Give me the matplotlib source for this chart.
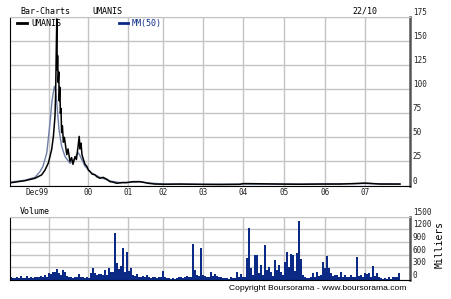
import matplotlib
matplotlib.use('Agg')
import matplotlib.pyplot as plt
from matplotlib.lines import Line2D
import numpy as np

# time axis is in periods (one period ~ 2 weeks), 200 periods on the axis
price_t = [0.5, 7.5, 12.5, 15.8, 17.5, 19.2, 20.8, 21.7, 22.5, 22.8, 23.2, 23.4, 23.6, 23.8,
           24.1, 24.4, 24.6, 24.9, 25.2, 25.5, 25.8, 26.2, 26.7, 27.2, 28.4, 29, 30, 30.8,
           31.5, 32.5, 33.2, 34, 34.6, 35, 35.5, 36, 36.7, 37.5, 38.4, 39.2, 40, 41, 42.5,
           43.5, 45, 46.5, 48.4, 50, 51.5, 53.4, 56, 58.4, 61.5, 65, 67.5, 69.2, 72.5, 77.5,
           85, 95, 105, 115, 116.5, 125, 135, 145, 155, 165, 172.5, 177.5, 185, 195]
price_v = [2.9, 5, 7.5, 11, 16, 23.5, 37, 51, 72, 93, 149, 173, 120, 135,
           107, 118, 88, 102, 75, 80, 55, 62, 45, 50, 32, 38, 25, 29,
           22, 30, 27, 40, 51, 38, 44, 32, 27, 22, 20, 16, 14.5, 12, 11,
           9, 7.5, 8.5, 6.5, 4, 3.5, 2.3, 3, 3, 4, 4, 3, 2.3, 1.5, 1.3,
           1.5, 1.2, 1, 1.2, 2, 1.8, 1.5, 1.3, 1.5, 1.5, 2, 2.5, 1.5, 1.5]

ma_t = [0.5, 7.5, 12.5, 15, 16.5, 18.4, 20, 21, 21.7, 22.2, 22.8, 23.4, 24.5, 25.8, 27.5,
        30, 31.7, 33.4, 34.2, 35, 37.5, 40.8, 45, 50, 55, 60, 65, 70, 77.5, 95, 116.5,
        145, 177.5, 195]
ma_v = [3.5, 5.5, 8.5, 14.5, 20, 34, 65, 88, 97, 103, 98, 86, 58, 41, 30,
        23, 26, 32, 34, 31, 20, 13, 8.5, 4.7, 3, 3.3, 3.8, 2.5, 1.5, 1.3, 1.5,
        1.4, 2.1, 1.5]

# volume (milliers), one value per period
volume = [60, 50, 40, 70, 45, 90, 40, 50, 100, 45, 60, 50, 80, 60, 70, 90, 60, 110, 80, 170,
          140, 200, 180, 260, 160, 120, 240, 200, 100, 70, 60, 50, 70, 60, 135, 70, 60, 50, 60, 50,
          170, 290, 160, 130, 150, 140, 120, 240, 130, 290, 180, 200, 1105, 395, 250, 330, 765, 200, 655, 220,
          290, 110, 90, 135, 80, 70, 100, 60, 120, 70, 50, 80, 60, 50, 60, 70, 215, 80, 40, 50,
          30, 40, 30, 50, 80, 60, 40, 60, 90, 70, 80, 855, 240, 120, 90, 750, 120, 100, 80, 60,
          180, 100, 150, 90, 60, 80, 40, 40, 50, 30, 60, 50, 40, 200, 80, 135, 70, 60, 530, 1230,
          290, 120, 590, 600, 160, 355, 120, 830, 240, 300, 190, 100, 475, 240, 355, 200, 120, 435, 670, 310,
          610, 590, 210, 630, 1400, 500, 120, 60, 50, 40, 60, 160, 80, 180, 90, 120, 435, 280, 575, 290,
          160, 90, 120, 110, 80, 200, 80, 120, 60, 70, 120, 80, 60, 545, 100, 120, 80, 160, 150, 160,
          80, 330, 90, 170, 60, 40, 30, 50, 30, 70, 30, 70, 60, 70, 160]

grid_t = [19.5, 39, 59, 76.5, 96.5, 116.5, 137, 157.5, 177.5]
grid_labels = ['Dec99', '00', '01', '02', '03', '04', '05', '06', '07']
price_ticks = [0, 25, 50, 75, 100, 125, 150, 175]
vol_ticks = [0, 300, 600, 900, 1200, 1500]

MONO = 'DejaVu Sans Mono'
GRID = '#c4c4c4'
NAVY = '#0b2a85'

W, H = 451, 299
fig = plt.figure(figsize=(W / 100, H / 100), dpi=100)

def box(l, t, r, b):
    return [l / W, 1 - b / H, (r - l) / W, (b - t) / H]

ax = fig.add_axes(box(10, 17, 410, 185.5))
av = fig.add_axes(box(10, 216.7, 410, 280))

for a in (ax, av):
    a.set_xlim(0, 200)
    a.set_xticks(grid_t)
    a.grid(True, color=GRID, lw=1)
    a.set_axisbelow(True)
    a.yaxis.tick_right()
    a.tick_params(length=0, labelsize=5.5, pad=2, colors='#222222')
    a.spines['left'].set_color('black')
    a.spines['bottom'].set_color('black')
    a.spines['top'].set_color(GRID)
    a.spines['right'].set_color('#555555')
    a.spines['right'].set_linewidth(1.8)

ax.plot(ma_t, ma_v, color='#6f7fa8', lw=1.0)
ax.plot(price_t, price_v, color='black', lw=1.1)
ax.set_ylim(0, 175)
ax.set_yticks(price_ticks, [str(v) for v in price_ticks], va='bottom', family=MONO)
ax.set_xticks(grid_t, grid_labels, family=MONO, fontsize=5.5)
ax.get_xticklabels()[0].set_ha('right')

av.bar(np.arange(len(volume)), volume, width=1.0, align='edge', color=NAVY, lw=0,
       antialiased=False)
av.set_ylim(0, 1500)
av.set_yticks(vol_ticks, [str(v) for v in vol_ticks], va='bottom', family=MONO)
av.set_xticklabels([])

# header and legend
fig.text(20 / W, 1 - 11 / H, 'Bar-Charts', family=MONO, fontsize=6, va='center')
fig.text(92 / W, 1 - 11 / H, 'UMANIS', family=MONO, fontsize=6, va='center')
fig.text(365 / W, 1 - 11 / H, '22/10', family=MONO, fontsize=6, va='center', ha='center')
fig.add_artist(Line2D([17 / W, 27 / W], [1 - 23 / H] * 2, color='black', lw=2))
fig.text(31 / W, 1 - 23.5 / H, 'UMANIS', family=MONO, fontsize=6, va='center')
fig.add_artist(Line2D([119 / W, 128 / W], [1 - 23 / H] * 2, color=NAVY, lw=2))
fig.text(132 / W, 1 - 23.5 / H, 'MM(50)', family=MONO, fontsize=6, va='center', color=NAVY)

fig.text(20 / W, 1 - 211 / H, 'Volume', family=MONO, fontsize=6, va='center')
fig.text(440 / W, 1 - 245 / H, 'Milliers', family=MONO, fontsize=7, va='center',
         ha='center', rotation=90)
fig.text(318 / W, 1 - 289 / H, 'Copyright Boursorama - www.boursorama.com',
         family='Liberation Sans', fontsize=6.1, va='center', ha='center')

fig.savefig('out.png', dpi=100, facecolor='white')
